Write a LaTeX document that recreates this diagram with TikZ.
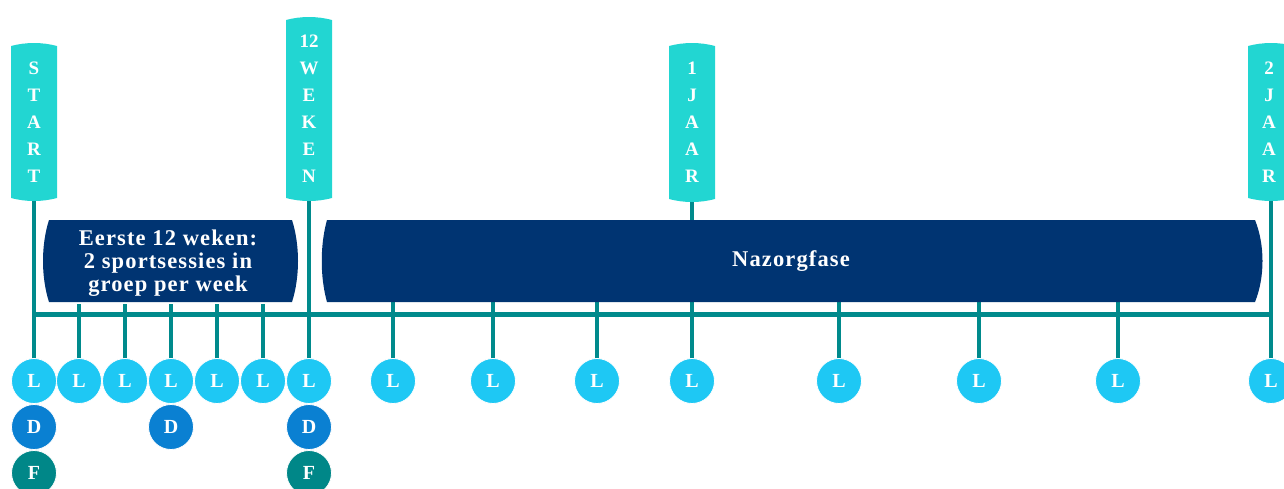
\documentclass[tikz,border=0pt]{standalone}
\usepackage{fontspec}
\setmainfont{Liberation Serif}
\newfontfamily\wideserif[LetterSpace=5]{Liberation Serif}
\usetikzlibrary{backgrounds}

\definecolor{bannercyan}{RGB}{34,214,210}
\definecolor{tealline}{RGB}{0,138,140}
\definecolor{navy}{RGB}{0,52,114}
\definecolor{lcirc}{RGB}{30,200,244}
\definecolor{dcirc}{RGB}{10,128,210}
\definecolor{fcirc}{RGB}{0,135,136}

\tikzset{
  banner/.style={text=white, align=center, inner sep=0pt,
    font=\bfseries\fontsize{19}{27}\selectfont},
  phase/.style={text=white, align=center, inner sep=0pt,
    minimum height=82pt, font=\wideserif\bfseries\fontsize{22.5}{23}\selectfont},
  dot/.style={circle, minimum size=45pt, inner sep=0pt, draw=white,
    line width=0.8pt, text=white, font=\bfseries\fontsize{20}{20}\selectfont},
  ldot/.style={dot, fill=lcirc},
  ddot/.style={dot, fill=dcirc},
  fdot/.style={dot, fill=fcirc},
  link/.style={draw=tealline, line width=4pt},
  bus/.style={draw=tealline, line width=5pt},
}

% milestone flag: centre x, top y, bottom y
\newcommand\flagshape[3]{%
  \fill[bannercyan] (#1-23,#2+3) .. controls (#1-8,#2-1) and (#1+8,#2-1) .. (#1+23,#2+3)
    -- (#1+23,#3-3) .. controls (#1+8,#3+1) and (#1-8,#3+1) .. (#1-23,#3-3) -- cycle;}

\begin{document}
\begin{tikzpicture}[x=1pt,y=-1pt]
\useasboundingbox (0,0) rectangle (1284,488);

% phase bars with bowed ends
\fill[navy] (49,220) -- (292,220) .. controls (300,245) and (300,277) .. (292,302)
  -- (49,302) .. controls (41,277) and (41,245) .. (49,220) -- cycle;
\fill[navy] (327,220) -- (1255,220) .. controls (1265,245) and (1265,277) .. (1255,302)
  -- (327,302) .. controls (320,277) and (320,245) .. (327,220) -- cycle;
\node[phase] (box1) at (168,263) {Eerste 12 weken:\\2 sportsessies in\\groep per week};
\node[phase] (box2) at (791,261) {Nazorgfase};

% milestone flags
\flagshape{34}{43}{201}
\flagshape{309}{17}{201}
\flagshape{692}{43}{202}
\flagshape{1271}{43}{201}
\node[banner] (m1) at (34,122) {S\\T\\A\\R\\T};
\node[banner] (m2) at (309,109) {12\\W\\E\\K\\E\\N};
\node[banner] (m3) at (692,122) {1\\J\\A\\A\\R};
\node[banner] (m4) at (1269,122) {2\\J\\A\\A\\R};

% session circles
\foreach \i/\x in {1/34,2/79,3/125,4/171,5/217,6/263,7/309,8/393,9/493,10/597,11/692,12/839,13/979,14/1118,15/1271}
  \node[ldot] (L\i) at (\x,381) {L};
\node[ddot] (D1) at (34,427) {D};
\node[ddot] (D2) at (171,427) {D};
\node[ddot] (D3) at (309,427) {D};
\node[fdot] (F1) at (34,473) {F};
\node[fdot] (F2) at (309,473) {F};

\coordinate (busy) at (0,314);

\begin{scope}[on background layer]
  % milestone stems
  \foreach \m/\l in {m1/L1,m2/L7,m3/L11,m4/L15}
    \draw[link] (\l) -- (\l |- \m);
  % horizontal time axis
  \draw[bus] (L1 |- busy) -- (L15 |- busy);
  % ticks below the phase bars
  \foreach \l in {L2,L3,L4,L5,L6}
    \draw[link] (\l) -- (\l |- box1.south);
  \foreach \l in {L8,L9,L10,L12,L13,L14}
    \draw[link] (\l) -- (\l |- box2.south);
\end{scope}
\end{tikzpicture}
\end{document}
